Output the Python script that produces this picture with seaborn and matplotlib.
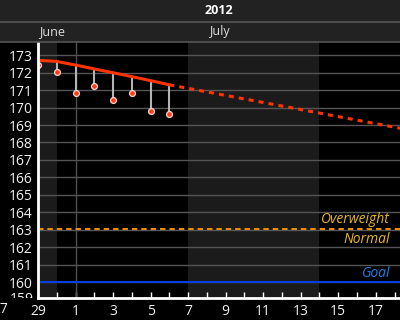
import matplotlib
matplotlib.use("Agg")
import matplotlib.pyplot as plt
import matplotlib.dates as mdates
from matplotlib.patches import Rectangle
from matplotlib.lines import Line2D
from matplotlib.ticker import FixedLocator, FuncFormatter
from matplotlib.transforms import Bbox
import seaborn as sns
import pandas as pd

# ---------------- data ----------------
year_label = "2012"
month_labels = ["June", "July"]
weigh_dates = ["2012-06-29", "2012-06-30", "2012-07-01", "2012-07-02",
               "2012-07-03", "2012-07-04", "2012-07-05", "2012-07-06"]
weights = [172.44, 172.03, 170.83, 171.24, 170.43, 170.83, 169.81, 169.64]
trend = [172.70, 172.64, 172.43, 172.21, 171.99, 171.77, 171.54, 171.30]
forecast_dates = ["2012-07-06", "2012-07-20"]
forecast = [171.30, 168.47]
overweight_level = 163.07
goal_level = 160.0
shade_weeks = [("2012-06-23", "2012-06-30"), ("2012-07-07", "2012-07-14")]
month_start = "2012-07-01"
x_start = "2012-06-29"
x_end = "2012-07-18 07:00"
y_ticks = list(range(160, 174))
x_label_dates = ["2012-06-29", "2012-07-01", "2012-07-03", "2012-07-05", "2012-07-07",
                 "2012-07-09", "2012-07-11", "2012-07-13", "2012-07-15", "2012-07-17"]
out_of_range_x_label = ("2012-06-27", "27")
out_of_range_y_label = (159, "159")

# ---------------- style ----------------
sns.set_style("dark")
plt.rcParams['font.family'] = ['Open Sans', 'DejaVu Sans']

W, H = 400, 320
fig = plt.figure(figsize=(4, 3.2), dpi=100, facecolor="black")
ax = fig.add_axes([38 / W, 1 - 298 / H, 1 - 38 / W, (298 - 42) / H])
ax.set_facecolor("black")

obs = pd.DataFrame({"date": pd.to_datetime(weigh_dates), "weight": weights, "trend": trend})
fc = pd.DataFrame({"date": pd.to_datetime(forecast_dates), "trend": forecast})

# week shading
for a, b in shade_weeks:
    ax.axvspan(pd.Timestamp(a), pd.Timestamp(b), color="#1b1b1b", lw=0, zorder=0)

# horizontal grid
for v in y_ticks:
    ax.axhline(v, color="#555555", lw=1, zorder=0.5)
ax.axvline(pd.Timestamp(month_start), color="#4f4f4f", lw=1, zorder=0.6)

# thresholds
ax.axhline(overweight_level, color="#ff9a00", lw=1.3, ls=(0, (3.0, 2.2)), zorder=1)
ax.axhline(goal_level, color="#0a3de0", lw=1.5, zorder=1)

# stems
ax.vlines(obs["date"], obs["weight"], obs["trend"], color="#b4b4b4", lw=1.5, zorder=2)

# trend and forecast
sns.lineplot(data=obs, x="date", y="trend", ax=ax, color="#ff3300", lw=2.2, zorder=3)
sns.lineplot(data=fc, x="date", y="trend", ax=ax, color="#ff3300", lw=2.2,
             dashes=False, zorder=3).lines[-1].set_linestyle((0, (1.65, 1.65)))

# points
sns.scatterplot(data=obs, x="date", y="weight", ax=ax, s=18, color="#ff3a1a",
                edgecolor="#ffd2c8", linewidth=0.9, zorder=4)

ax.set_xlim(pd.Timestamp(x_start), pd.Timestamp(x_end))
ax.set_ylim(159.1, 173.75)
ax.set_xlabel("")
ax.set_ylabel("")
ax.grid(False)

# labels for thresholds
lab_x = (390 - 38) / (W - 38)
ax.text(lab_x, 163.62, "Overweight", transform=ax.get_yaxis_transform(), ha="right",
        va="center", color="#e8b820", fontsize=10, style="italic", zorder=5)
ax.text(lab_x, 162.47, "Normal", transform=ax.get_yaxis_transform(), ha="right",
        va="center", color="#e8b820", fontsize=10, style="italic", zorder=5)
ax.text(lab_x, 160.53, "Goal", transform=ax.get_yaxis_transform(), ha="right",
        va="center", color="#1f7fe0", fontsize=10, style="italic", zorder=5)

# axes styling
for s in ["top", "right"]:
    ax.spines[s].set_visible(False)
for s in ["left", "bottom"]:
    ax.spines[s].set_visible(True)
    ax.spines[s].set_color("white")
    ax.spines[s].set_linewidth(2)
    ax.spines[s].set_zorder(6)

ax.set_yticks(y_ticks)
ax.tick_params(axis="y", length=0, pad=4, labelsize=10, labelcolor="#f0f0f0", left=True)
ax.xaxis.set_major_locator(FixedLocator([mdates.date2num(pd.Timestamp(d)) for d in x_label_dates]))
ax.xaxis.set_major_formatter(FuncFormatter(lambda v, p: str(mdates.num2date(v).day)))
ax.xaxis.set_minor_locator(mdates.DayLocator())
ax.tick_params(axis="x", which="both", direction="in", length=4, width=1, color="white",
               labelsize=10, labelcolor="#f0f0f0", pad=4, bottom=True)

# partially visible labels beyond the range
ax.text(pd.Timestamp(out_of_range_x_label[0]), -0.016, out_of_range_x_label[1],
        transform=ax.get_xaxis_transform(), ha="center", va="top", fontsize=10,
        color="#f0f0f0", clip_on=False)
t159 = ax.text(-4 / (W - 38), out_of_range_y_label[0], out_of_range_y_label[1],
               transform=ax.get_yaxis_transform(), ha="right", va="center", fontsize=10,
               color="#f0f0f0", clip_on=True)
t159.set_clip_box(Bbox([[0, H - 298], [38, H]]))

# header
fig.patches.append(Rectangle((0, 1 - 42 / H), 1, 42 / H, transform=fig.transFigure,
                             facecolor="#222222", edgecolor="none", zorder=0))
fig.lines.append(Line2D([0, 1], [1 - 21.5 / H] * 2, transform=fig.transFigure,
                        color="#555555", lw=1.2))
fig.lines.append(Line2D([0, 1], [1 - 41.5 / H] * 2, transform=fig.transFigure,
                        color="#555555", lw=1.2))
fig.text(219 / W, 1 - 11 / H, year_label, ha="center", va="center", color="white",
         fontsize=9, fontweight="bold")
fig.text(39 / W, 1 - 32 / H, month_labels[0], ha="left", va="center", color="#dddddd", fontsize=9)
fig.text(209 / W, 1 - 32 / H, month_labels[1], ha="left", va="center", color="#dddddd", fontsize=9)

fig.savefig("out.png", dpi=100, facecolor="black")
